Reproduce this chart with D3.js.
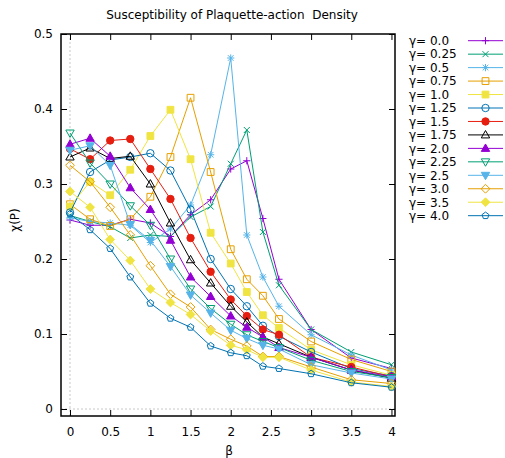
<!DOCTYPE html>
<html>
<head>
<meta charset="utf-8">
<script src="https://cdn.jsdelivr.net/npm/d3@7"></script>
<style>
  html, body { margin: 0; padding: 0; background: #fff; }
  svg { display: block; }
  text { font-family: "DejaVu Sans", sans-serif; fill: #000; white-space: pre; }
</style>
</head>
<body>
<div id="chart"></div>
<script>
// β grid shared by every series
const betas = [0, 0.25, 0.5, 0.75, 1, 1.25, 1.5, 1.75, 2, 2.2, 2.4, 2.6, 3, 3.5, 4];

// χ(P) per γ
const chi_g000 = [0.252, 0.245, 0.245, 0.253, 0.248, 0.230, 0.259, 0.279, 0.320, 0.331, 0.254, 0.173, 0.106, 0.068, 0.054];
const chi_g025 = [0.258, 0.250, 0.243, 0.228, 0.232, 0.230, 0.256, 0.270, 0.327, 0.372, 0.236, 0.165, 0.106, 0.076, 0.059];
const chi_g050 = [0.255, 0.250, 0.248, 0.245, 0.222, 0.240, 0.272, 0.339, 0.468, 0.232, 0.176, 0.137, 0.099, 0.072, 0.052];
const chi_g075 = [0.273, 0.253, 0.244, 0.253, 0.283, 0.336, 0.415, 0.316, 0.213, 0.173, 0.151, 0.120, 0.090, 0.066, 0.050];
const chi_g100 = [0.270, 0.303, 0.285, 0.319, 0.364, 0.399, 0.333, 0.235, 0.194, 0.156, 0.125, 0.108, 0.079, 0.059, 0.045];
const chi_g125 = [0.262, 0.316, 0.332, 0.336, 0.341, 0.318, 0.266, 0.200, 0.160, 0.137, 0.111, 0.097, 0.076, 0.054, 0.044];
const chi_g150 = [0.347, 0.333, 0.358, 0.360, 0.320, 0.280, 0.228, 0.183, 0.146, 0.124, 0.106, 0.099, 0.069, 0.056, 0.043];
const chi_g175 = [0.336, 0.348, 0.334, 0.337, 0.300, 0.248, 0.199, 0.168, 0.137, 0.116, 0.096, 0.087, 0.069, 0.052, 0.041];
const chi_g200 = [0.353, 0.361, 0.337, 0.295, 0.266, 0.225, 0.176, 0.150, 0.124, 0.109, 0.096, 0.082, 0.069, 0.052, 0.043];
const chi_g225 = [0.368, 0.328, 0.300, 0.271, 0.245, 0.200, 0.160, 0.134, 0.113, 0.099, 0.090, 0.082, 0.065, 0.050, 0.042];
const chi_g250 = [0.345, 0.351, 0.325, 0.246, 0.225, 0.190, 0.152, 0.128, 0.105, 0.094, 0.085, 0.080, 0.059, 0.048, 0.040];
const chi_g300 = [0.325, 0.303, 0.269, 0.232, 0.191, 0.153, 0.136, 0.106, 0.093, 0.084, 0.070, 0.070, 0.056, 0.039, 0.034];
const chi_g350 = [0.290, 0.269, 0.226, 0.198, 0.160, 0.142, 0.126, 0.104, 0.085, 0.079, 0.069, 0.069, 0.052, 0.036, 0.030];
const chi_g400 = [0.260, 0.239, 0.214, 0.176, 0.141, 0.121, 0.109, 0.084, 0.075, 0.071, 0.057, 0.054, 0.047, 0.035, 0.029];

const gammaLabels = ["0.0", "0.25", "0.5", "0.75", "1.0", "1.25", "1.5", "1.75", "2.0", "2.25", "2.5", "3.0", "3.5", "4.0"];
const seriesValues = [chi_g000, chi_g025, chi_g050, chi_g075, chi_g100, chi_g125, chi_g150,
                      chi_g175, chi_g200, chi_g225, chi_g250, chi_g300, chi_g350, chi_g400];
const seriesColors = ["#9400d3", "#009e73", "#56b4e9", "#e69f00", "#f0e442", "#0072b2", "#e51e10",
                      "#000000", "#9400d3", "#009e73", "#56b4e9", "#e69f00", "#f0e442", "#0072b2"];
const seriesMarkers = ["plus", "cross", "star", "square", "squareF", "circle", "circleF",
                       "tri", "triF", "itri", "itriF", "diamond", "diamondF", "pent"];

const xTicks = [0, 0.5, 1, 1.5, 2, 2.5, 3, 3.5, 4];
const yTicks = [0, 0.1, 0.2, 0.3, 0.4, 0.5];

const W = 505, H = 458;
const FONT = 12;
const frame = { left: 61, right: 395, top: 34, bottom: 416 };

const svg = d3.select("#chart").append("svg")
  .attr("width", W).attr("height", H);

const x = d3.scaleLinear().domain([-0.112, 4.044]).range([frame.left, frame.right]);
const y = d3.scaleLinear().domain([-0.00933, 0.5]).range([frame.bottom, frame.top]);

// zero axes (dotted)
svg.append("line")
  .attr("x1", x(0)).attr("x2", x(0)).attr("y1", frame.top).attr("y2", frame.bottom)
  .attr("stroke", "#c8c8c8").attr("stroke-width", 1).attr("stroke-dasharray", "2,2");
svg.append("line")
  .attr("x1", frame.left).attr("x2", frame.right).attr("y1", y(0)).attr("y2", y(0))
  .attr("stroke", "#c8c8c8").attr("stroke-width", 1).attr("stroke-dasharray", "2,2");

// axes with inward ticks on all four sides
const tickLen = 6;
const gx = svg.append("g").attr("transform", `translate(0,${frame.bottom})`)
  .call(d3.axisBottom(x).tickValues(xTicks).tickSizeInner(-tickLen).tickSizeOuter(0)
        .tickPadding(11).tickFormat(d3.format("")));
const gxTop = svg.append("g").attr("transform", `translate(0,${frame.top})`)
  .call(d3.axisTop(x).tickValues(xTicks).tickSizeInner(-tickLen).tickSizeOuter(0).tickFormat(""));
const gy = svg.append("g").attr("transform", `translate(${frame.left},0)`)
  .call(d3.axisLeft(y).tickValues(yTicks).tickSizeInner(-tickLen).tickSizeOuter(0)
        .tickPadding(8).tickFormat(d3.format("")));
const gyR = svg.append("g").attr("transform", `translate(${frame.right},0)`)
  .call(d3.axisRight(y).tickValues(yTicks).tickSizeInner(-tickLen).tickSizeOuter(0).tickFormat(""));

[gx, gxTop, gy, gyR].forEach(g => {
  g.select(".domain").remove();
  g.selectAll(".tick line").attr("stroke", "#000").attr("stroke-width", 1);
  g.selectAll("text").attr("font-size", FONT).attr("font-family", "DejaVu Sans, sans-serif").attr("fill", "#000");
});

// border
svg.append("rect")
  .attr("x", frame.left).attr("y", frame.top)
  .attr("width", frame.right - frame.left).attr("height", frame.bottom - frame.top)
  .attr("fill", "none").attr("stroke", "#000").attr("stroke-width", 1.5);

// titles
svg.append("text").attr("x", 232).attr("y", 19).attr("text-anchor", "middle")
  .attr("font-size", FONT).text("Susceptibility of Plaquette-action  Density");
svg.append("text").attr("x", 229).attr("y", 455).attr("text-anchor", "middle")
  .attr("font-size", FONT).text("β");
svg.append("text").attr("transform", "translate(19,220) rotate(-90)").attr("text-anchor", "middle")
  .attr("font-size", FONT).text("χ(P)");

// point symbols
function markerPath(type) {
  const s = 3.6;
  switch (type) {
    case "plus": return `M${-s},0H${s}M0,${-s}V${s}`;
    case "cross": return `M${-3},${-3}L3,3M${-3},3L3,${-3}`;
    case "star": return `M${-s},0H${s}M0,${-s}V${s}M-2.8,-2.8L2.8,2.8M-2.8,2.8L2.8,-2.8`;
    case "square": case "squareF": return "M-3.4,-3.4H3.4V3.4H-3.4Z";
    case "circle": case "circleF": return d3.symbol(d3.symbolCircle, Math.PI * 3.7 * 3.7)();
    case "tri": case "triF": return "M0,-4.4L4.2,3L-4.2,3Z";
    case "itri": case "itriF": return "M0,4.4L4.2,-3L-4.2,-3Z";
    case "diamond": case "diamondF": return "M0,-4.4L4.4,0L0,4.4L-4.4,0Z";
    case "pent": {
      const r = 3.6;
      const pts = d3.range(5).map(i => {
        const a = -Math.PI / 2 + i * 2 * Math.PI / 5;
        return [r * Math.cos(a), r * Math.sin(a)];
      });
      return "M" + pts.map(p => p.join(",")).join("L") + "Z";
    }
  }
}
function isFilled(type) { return type.endsWith("F"); }

function drawMarker(g, type, color, cx, cy) {
  g.append("path")
    .attr("d", markerPath(type))
    .attr("transform", `translate(${cx},${cy})`)
    .attr("fill", isFilled(type) ? color : "none")
    .attr("stroke", color)
    .attr("stroke-width", 1);
}

const line = d3.line().x(d => x(d[0])).y(d => y(d[1]));

const plot = svg.append("g");
seriesValues.forEach((vals, i) => {
  const pts = betas.map((b, j) => [b, vals[j]]);
  const g = plot.append("g");
  g.append("path").attr("d", line(pts)).attr("fill", "none")
    .attr("stroke", seriesColors[i]).attr("stroke-width", 1);
  pts.forEach(p => drawMarker(g, seriesMarkers[i], seriesColors[i], x(p[0]), y(p[1])));
});

// legend
const legend = svg.append("g");
gammaLabels.forEach((lab, i) => {
  const ly = 40.7 + i * 13.46;
  legend.append("text").attr("x", 409).attr("y", ly + 4.3).attr("font-size", FONT).text("γ= " + lab);
  legend.append("line").attr("x1", 468).attr("x2", 503).attr("y1", ly).attr("y2", ly)
    .attr("stroke", seriesColors[i]).attr("stroke-width", 1);
  drawMarker(legend, seriesMarkers[i], seriesColors[i], 485.5, ly);
});
</script>
</body>
</html>
